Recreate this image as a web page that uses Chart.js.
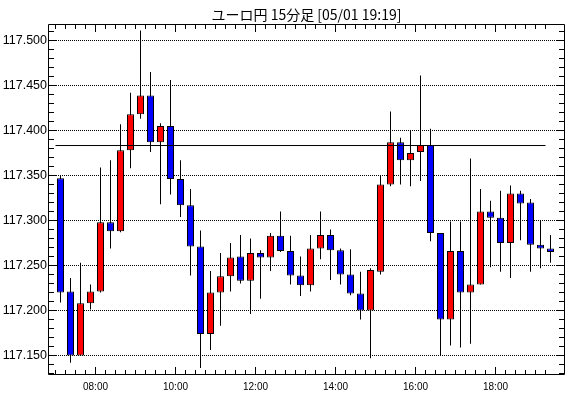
<!DOCTYPE html>
<html><head><meta charset="utf-8">
<script src="https://cdn.jsdelivr.net/npm/chart.js@4/dist/chart.umd.min.js"></script>
<style>html,body{margin:0;padding:0;background:#fff;}#wrap{width:570px;height:398px;position:relative;}</style>
</head><body><div id="wrap"><canvas id="c" width="570" height="398"></canvas></div>
<script>
const chartTitle = 'ユーロ円 15分足 [05/01 19:19]';
const times = ['07:00','07:15','07:30','07:45','08:00','08:15','08:30','08:45','09:00','09:15',
  '09:30','09:45','10:00','10:15','10:30','10:45','11:00','11:15','11:30','11:45',
  '12:00','12:15','12:30','12:45','13:00','13:15','13:30','13:45','14:00','14:15',
  '14:30','14:45','15:00','15:15','15:30','15:45','16:00','16:15','16:30','16:45',
  '17:00','17:15','17:30','17:45','18:00','18:15','18:30','18:45','19:00','19:15'];
const opens = [117.347,117.221,117.150,117.208,117.221,117.298,117.288,117.378,117.418,117.439,
  117.387,117.405,117.346,117.317,117.271,117.174,117.220,117.238,117.260,117.233,
  117.264,117.259,117.283,117.266,117.239,117.228,117.269,117.284,117.267,117.240,
  117.219,117.200,117.243,117.340,117.387,117.367,117.376,117.384,117.286,117.190,
  117.266,117.220,117.229,117.310,117.303,117.275,117.330,117.320,117.273,117.269];
const highs = [117.350,117.236,117.253,117.229,117.359,117.367,117.407,117.442,117.511,117.465,
  117.408,117.456,117.367,117.335,117.289,117.244,117.264,117.275,117.284,117.280,
  117.267,117.286,117.310,117.283,117.260,117.284,117.310,117.290,117.269,117.268,
  117.243,117.247,117.350,117.421,117.392,117.400,117.461,117.402,117.286,117.299,
  117.299,117.369,117.335,117.322,117.333,117.339,117.333,117.324,117.300,117.284];
const lows = [117.209,117.142,117.150,117.201,117.220,117.269,117.287,117.358,117.413,117.376,
  117.318,117.329,117.304,117.239,117.136,117.156,117.183,117.221,117.230,117.196,
  117.213,117.244,117.265,117.229,117.216,117.221,117.257,117.234,117.229,117.217,
  117.190,117.147,117.240,117.338,117.340,117.338,117.344,117.277,117.150,117.161,
  117.159,117.163,117.229,117.248,117.243,117.236,117.278,117.243,117.247,117.253];
const closes = [117.220,117.150,117.208,117.221,117.298,117.288,117.378,117.418,117.439,117.387,
  117.405,117.346,117.317,117.271,117.174,117.220,117.238,117.259,117.233,117.264,
  117.259,117.283,117.266,117.239,117.228,117.269,117.284,117.267,117.240,117.219,
  117.200,117.245,117.340,117.387,117.367,117.375,117.384,117.286,117.190,117.266,
  117.220,117.229,117.310,117.303,117.275,117.330,117.319,117.273,117.269,117.265];
const refLevel = 117.3833;
const refLineTimes = ['07:00','19:15'];
const yTickValues = [117.150,117.200,117.250,117.300,117.350,117.400,117.450,117.500];
const yTickLabels = ['117.150','117.200','117.250','117.300','117.350','117.400','117.450','117.500'];
const xTickTimes = ['08:00','10:00','12:00','14:00','16:00','18:00'];
const xTickLabels = ['08:00','10:00','12:00','14:00','16:00','18:00'];

const UP = '#ff0000', DOWN = '#0000ff';
const toMin = s => { const [h, m] = s.split(':').map(Number); return h * 60 + m; };
const centerOf = s => toMin(s) + 7.5;

const bodies = times.map((t, i) => ({x: centerOf(t), y: [Math.min(opens[i], closes[i]), Math.max(opens[i], closes[i])]}));
const wicks = times.map((t, i) => ({x: centerOf(t), y: [lows[i], highs[i]]}));
const bodyColors = times.map((t, i) => closes[i] >= opens[i] ? UP : DOWN);
const refLineData = refLineTimes.map(t => ({x: toMin(t), y: refLevel}));

const frameTicks = {
  id: 'frameTicks',
  afterDraw(chart) {
    const {ctx, chartArea: a, scales: {x, y}} = chart;
    ctx.save();
    ctx.strokeStyle = '#000';
    ctx.lineWidth = 1;
    ctx.setLineDash([]);
    ctx.beginPath();
    ctx.rect(a.left + 0.5, a.top + 0.5, a.right - a.left - 1, a.bottom - a.top - 1);
    const t0 = toMin(times[0]), t1 = toMin(times[times.length - 1]);
    for (let t = t0; t <= t1; t += 15) {
      const px = Math.floor(x.getPixelForValue(t)) + 0.5;
      const major = (t % 120 === 0);
      const len = major ? 7 : 4;
      ctx.moveTo(px, a.bottom - 1); ctx.lineTo(px, a.bottom - 1 - len);
      ctx.moveTo(px, a.top + 1); ctx.lineTo(px, a.top + 1 + len);
    }
    const lo = Math.ceil(y.min * 100), hi = Math.floor(y.max * 100);
    for (let k = lo; k <= hi; k++) {
      const py = Math.floor(y.getPixelForValue(k / 100)) + 0.5;
      const len = (k % 5 === 0) ? 7 : 5;
      ctx.moveTo(a.left + 1, py); ctx.lineTo(a.left + 1 + len, py);
      ctx.moveTo(a.right - 1, py); ctx.lineTo(a.right - 1 - len, py);
    }
    ctx.stroke();
    ctx.restore();
  }
};

new Chart(document.getElementById('c'), {
  type: 'bar',
  data: {
    datasets: [
      {type: 'line', data: refLineData, borderColor: '#000', borderWidth: 1, pointRadius: 0, fill: false, order: 0},
      {data: bodies, backgroundColor: bodyColors, borderColor: '#000', borderWidth: 1, borderSkipped: false,
        barThickness: 7, grouped: false, inflateAmount: 0, order: 1},
      {data: wicks, backgroundColor: '#000', borderWidth: 0, barThickness: 1, grouped: false, inflateAmount: 0, order: 2}
    ]
  },
  options: {
    responsive: false,
    animation: false,
    events: [],
    layout: {padding: {left: 0, right: 5, top: 0, bottom: 0}},
    plugins: {
      legend: {display: false},
      tooltip: {enabled: false},
      title: {
        display: true, text: chartTitle, fullSize: false, color: '#000',
        font: {family: '"Noto Sans CJK JP", sans-serif', size: 14, weight: 'normal', lineHeight: 1.2},
        padding: {top: 6, bottom: 1.2}
      }
    },
    scales: {
      x: {
        type: 'linear', min: 408.75, max: 1184.25, offset: false,
        afterBuildTicks: s => { s.ticks = xTickTimes.map(t => ({value: toMin(t)})); },
        afterFit: s => { s.height = 23; },
        grid: {display: false, drawTicks: false, offset: false},
        border: {display: false},
        ticks: {
          autoSkip: false, maxRotation: 0, padding: 6, color: '#000',
          font: {family: '"Liberation Sans", Arial, sans-serif', size: 10},
          callback: (v, i) => xTickLabels[i]
        }
      },
      y: {
        type: 'linear', min: 117.12833, max: 117.51833,
        afterBuildTicks: s => { s.ticks = yTickValues.map(v => ({value: v})); },
        afterFit: s => { s.width = 48; },
        grid: {color: '#000', lineWidth: 1, drawTicks: false},
        border: {display: false, dash: [1, 1]},
        ticks: {
          padding: 1, color: '#000',
          font: {family: '"Liberation Sans Narrow", "Liberation Sans", sans-serif', size: 12.5},
          callback: (v, i) => yTickLabels[i]
        }
      }
    }
  },
  plugins: [frameTicks]
});
</script></body></html>
